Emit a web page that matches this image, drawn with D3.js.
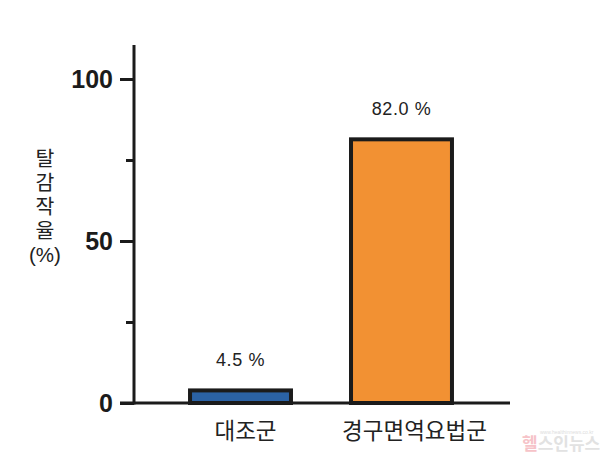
<!DOCTYPE html>
<html lang="ko">
<head>
<meta charset="UTF-8">
<title>탈감작율</title>
<style>
    body { margin: 0; padding: 0; background: #fff; }
    svg { display: block; }
    text { font-family: Arial, "Liberation Sans", "Noto Sans CJK KR", sans-serif; }
</style>
</head>
<body>
<script src="https://d3js.org/d3.v7.min.js"></script>
<script>
const width = 600
const height = 460

const groups = ['대조군', '경구면역요법군']
const rates = [4.5, 82.0]
const barColors = ['#2b62a4', '#f29133']
const majorTicks = [0, 50, 100]
const minorTicks = [25, 75]
const titleChars = ['탈', '감', '작', '율', '(%)']
const labelNudge = [5, 13]  // category labels sit a little right of bar centre

const ink = '#1b1b1b'
const x0 = 134, yBase = 403

const y = d3.scaleLinear().domain([0, 110.5]).range([yBase, 45])
const x = d3.scaleBand().domain(groups).range([132, 510]).padding(0.348)

const svg = d3.select('body').append('svg')
    .attr('width', width)
    .attr('height', height)

// bars
svg.selectAll('rect.bar')
    .data(groups)
    .join('rect')
    .attr('class', 'bar')
    .attr('x', d => x(d) + 2)
    .attr('width', x.bandwidth() - 4)
    .attr('y', (d, i) => y(rates[i]) + 2)
    .attr('height', (d, i) => yBase - y(rates[i]) - 2)
    .attr('fill', (d, i) => barColors[i])
    .attr('stroke', ink)
    .attr('stroke-width', 4)

// value labels
svg.selectAll('text.val')
    .data(groups)
    .join('text')
    .attr('class', 'val')
    .attr('x', d => x(d) + x.bandwidth() / 2)
    .attr('y', (d, i) => y(rates[i]) - 22)
    .attr('text-anchor', 'middle')
    .attr('font-size', 18)
    .attr('letter-spacing', 0.6)
    .attr('fill', '#222')
    .text((d, i) => rates[i].toFixed(1) + ' %')

// y axis
const yAxis = d3.axisLeft(y).tickValues(majorTicks).tickSize(14).tickPadding(7).tickFormat(d3.format('d'))
const gy = svg.append('g').attr('transform', `translate(${x0},0)`).call(yAxis)
gy.select('.domain').remove()
gy.selectAll('.tick line').attr('stroke', ink).attr('stroke-width', 3)
gy.selectAll('.tick text')
    .attr('font-size', 25).attr('font-weight', 'bold').attr('fill', ink)
    .attr('font-family', 'Arial, "Liberation Sans", sans-serif')

const yMinor = d3.axisLeft(y).tickValues(minorTicks).tickSize(8).tickFormat('')
const gm = svg.append('g').attr('transform', `translate(${x0},0)`).call(yMinor)
gm.select('.domain').remove()
gm.selectAll('.tick line').attr('stroke', ink).attr('stroke-width', 3)

svg.append('line')
    .attr('x1', x0).attr('x2', x0)
    .attr('y1', y(110.5)).attr('y2', yBase + 1.5)
    .attr('stroke', ink).attr('stroke-width', 3)

// x axis
svg.append('line')
    .attr('x1', x0 - 14).attr('x2', 510)
    .attr('y1', yBase).attr('y2', yBase)
    .attr('stroke', ink).attr('stroke-width', 3)

svg.selectAll('text.cat')
    .data(groups)
    .join('text')
    .attr('class', 'cat')
    .attr('x', (d, i) => x(d) + x.bandwidth() / 2 + labelNudge[i])
    .attr('y', 439)
    .attr('text-anchor', 'middle')
    .attr('font-size', 22.5)
    .attr('fill', '#222')
    .attr('font-family', '"Noto Sans CJK KR", sans-serif')
    .text(d => d)

// y title, stacked
svg.selectAll('text.ytitle')
    .data(titleChars)
    .join('text')
    .attr('class', 'ytitle')
    .attr('x', 45)
    .attr('y', (d, i) => 166 + i * 24)
    .attr('text-anchor', 'middle')
    .attr('font-size', 20.5)
    .attr('fill', '#222')
    .attr('font-family', '"Noto Sans CJK KR", sans-serif')
    .text(d => d)

// watermark
const wm = svg.append('text')
    .attr('x', 522).attr('y', 450)
    .attr('font-size', 17)
    .attr('font-weight', 'bold')
    .attr('font-family', '"Noto Sans CJK KR", sans-serif')
wm.append('tspan').attr('fill', '#f6c3c8').text('헬')
wm.append('tspan').attr('fill', '#e2e2e2').text('스인뉴스')
svg.append('text')
    .attr('x', 540).attr('y', 434)
    .attr('font-size', 5)
    .attr('fill', '#ddd')
    .text('www.healthinnews.co.kr')
</script>
</body>
</html>
